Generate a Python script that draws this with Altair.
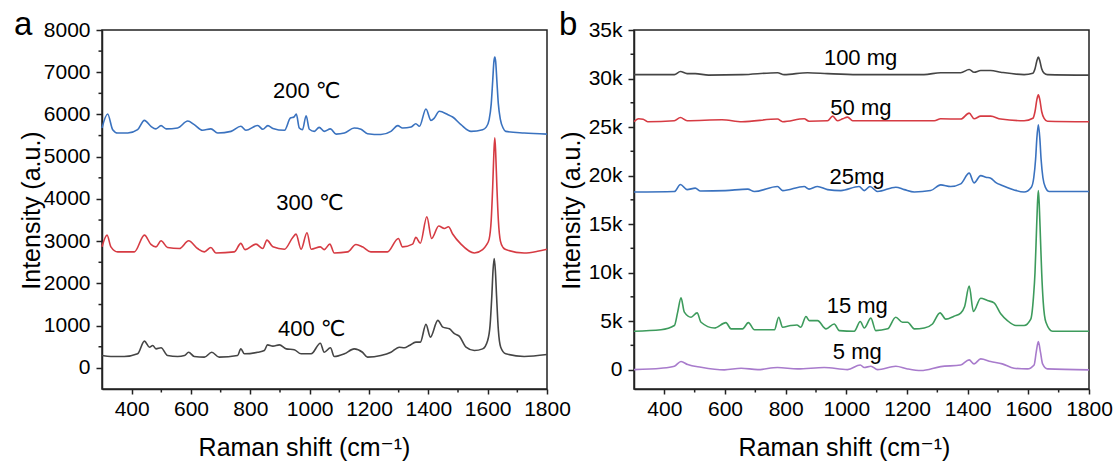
import altair as alt
import pandas as pd

FONT = "Liberation Sans, Arial, DejaVu Sans, Noto Sans CJK SC"

# ---------------- panel a : temperature series ----------------
A200_X = [300, 319, 336, 353, 387, 420, 443, 465, 482, 499, 516, 555, 589, 611, 639, 667, 690, 735, 768, 785,
          825, 842, 859, 876, 915, 935, 947, 955, 965, 976, 988, 999, 1016, 1032, 1049, 1070, 1089, 1117, 1150,
          1173, 1195, 1240, 1274, 1297, 1313, 1342, 1358, 1370, 1392, 1409, 1420, 1437, 1465, 1482, 1510, 1544,
          1583, 1595, 1605, 1612, 1617, 1621, 1624, 1627, 1631, 1636, 1643, 1652, 1661, 1723, 1800]
A200_Y = [5680, 6010, 5640, 5560, 5560, 5640, 5860, 5718, 5660, 5735, 5660, 5680, 5845, 5760, 5625, 5660, 5560,
          5600, 5720, 5625, 5740, 5650, 5735, 5670, 5625, 5915, 5940, 6010, 5680, 5640, 5970, 5650, 5600, 5695,
          5600, 5660, 5535, 5560, 5680, 5650, 5545, 5525, 5600, 5735, 5680, 5705, 5780, 5720, 6130, 5860, 5915,
          6075, 6000, 5940, 5760, 5600, 5640, 5700, 5880, 6250, 6800, 7250, 7360, 7250, 6800, 6250, 5880, 5680,
          5600, 5560, 5535]

A300_X = [300, 317, 330, 353, 409, 443, 465, 482, 499, 521, 561, 592, 622, 645, 667, 684, 746, 768, 782, 819,
          842, 856, 876, 915, 943, 954, 971, 991, 1005, 1036, 1049, 1068, 1083, 1128, 1156, 1178, 1206, 1262,
          1299, 1313, 1347, 1358, 1373, 1395, 1411, 1435, 1454, 1468, 1482, 1510, 1555, 1583, 1595, 1605, 1612,
          1617, 1621, 1624, 1627, 1631, 1636, 1643, 1652, 1661, 1723, 1768, 1800]
A300_Y = [2866, 3144, 2866, 2747, 2747, 3144, 2923, 2866, 3009, 2850, 2827, 3009, 2827, 2747, 2850, 2720, 2747,
          2947, 2800, 2930, 2827, 3025, 2866, 2810, 3089, 3168, 2810, 3200, 2810, 2866, 2800, 2930, 2720, 2747,
          2923, 2866, 2747, 2747, 3065, 2866, 2930, 3089, 2950, 3580, 3065, 3358, 3300, 3340, 3170, 2930, 2720,
          2800, 2900, 3050, 3500, 4300, 5100, 5450, 5100, 4300, 3500, 3000, 2850, 2800, 2720, 2760, 2810]

A400_X = [300, 330, 375, 420, 443, 460, 471, 482, 499, 521, 555, 578, 592, 611, 645, 670, 695, 757, 768, 780,
          825, 847, 858, 876, 898, 921, 948, 971, 1005, 1036, 1049, 1070, 1083, 1117, 1150, 1178, 1195, 1240,
          1274, 1302, 1319, 1336, 1358, 1373, 1392, 1407, 1432, 1449, 1471, 1488, 1505, 1527, 1555, 1583, 1600,
          1608, 1614, 1618, 1622, 1626, 1630, 1636, 1644, 1661, 1723, 1800]
A400_Y = [292, 270, 270, 333, 633, 490, 530, 450, 475, 292, 270, 292, 370, 270, 254, 370, 254, 292, 450, 333,
          370, 410, 545, 515, 545, 450, 430, 333, 333, 585, 370, 475, 270, 333, 450, 370, 254, 292, 370, 490,
          475, 530, 610, 610, 1030, 728, 1125, 965, 925, 810, 745, 490, 410, 450, 650, 1000, 1700, 2300, 2590,
          2300, 1700, 900, 490, 333, 270, 315]

SERIES_A = ["200 ℃", "300 ℃", "400 ℃"]
COLORS_A = ["#3a72bf", "#d63b43", "#454545"]
LABEL_A_X = [990, 1001, 1007]
LABEL_A_Y = [6550, 3900, 926]

# ---------------- panel b : mass series ----------------
B100_X = [300, 433, 453, 475, 502, 546, 656, 773, 795, 872, 938, 1037, 1147, 1256, 1311, 1377, 1405, 1421, 1443,
          1476, 1509, 1586, 1615, 1622, 1628, 1633, 1638, 1644, 1652, 1663, 1800]
B100_Y = [30400, 30400, 30720, 30500, 30500, 30350, 30400, 30600, 30400, 30600, 30500, 30400, 30400, 30400,
          30600, 30600, 30930, 30650, 30820, 30820, 30650, 30400, 30550, 31000, 31800, 32200, 31800, 31000,
          30550, 30400, 30350]

B50_X = [300, 315, 330, 345, 433, 453, 475, 590, 656, 773, 790, 861, 877, 938, 955, 971, 988, 1004, 1021, 1092,
         1202, 1290, 1311, 1377, 1405, 1421, 1443, 1476, 1509, 1586, 1615, 1622, 1628, 1633, 1638, 1644, 1652,
         1663, 1800]
B50_Y = [25550, 25850, 25800, 25550, 25650, 25980, 25650, 25750, 25550, 25820, 25550, 25850, 25600, 25650,
         26120, 25650, 25850, 26020, 25650, 25650, 25650, 25650, 25850, 25820, 26430, 25850, 26120, 26120,
         25820, 25650, 25900, 26600, 27800, 28320, 27800, 26600, 25900, 25600, 25550]

B25_X = [300, 433, 453, 475, 502, 519, 601, 675, 697, 773, 790, 861, 877, 905, 938, 982, 1042, 1059, 1078, 1103,
         1163, 1191, 1224, 1278, 1311, 1344, 1377, 1405, 1421, 1443, 1460, 1476, 1492, 1514, 1553, 1586, 1610,
         1618, 1624, 1628, 1633, 1638, 1642, 1648, 1656, 1669, 1800]
B25_Y = [18300, 18350, 19070, 18550, 18700, 18400, 18450, 18600, 18350, 18870, 18450, 18870, 18600, 18870,
         18550, 18450, 18870, 18450, 18870, 18350, 18800, 18550, 18300, 18450, 19040, 18870, 19140, 20250,
         19240, 19990, 19830, 19730, 19300, 18970, 18520, 18300, 18800, 19800, 21700, 23800, 25230, 23800,
         21700, 19800, 18800, 18350, 18350]

B15_X = [300, 389, 433, 444, 455, 466, 488, 508, 521, 565, 603, 620, 658, 677, 697, 763, 777, 790, 817, 837, 850,
         867, 878, 905, 933, 960, 977, 1026, 1046, 1059, 1081, 1097, 1136, 1163, 1185, 1202, 1224, 1257, 1284,
         1309, 1328, 1355, 1377, 1390, 1405, 1419, 1443, 1465, 1487, 1509, 1531, 1559, 1586, 1608, 1617, 1622,
         1626, 1630, 1633, 1636, 1640, 1644, 1649, 1658, 1680, 1800]
B15_Y = [3950, 4100, 4540, 5920, 7390, 5920, 5400, 5850, 4880, 4290, 4840, 4200, 4200, 4840, 4100, 4100, 5400,
         4370, 4540, 4600, 4370, 5470, 5050, 5050, 4200, 4700, 4020, 3950, 4950, 4290, 5300, 4020, 4200, 5400,
         4880, 4880, 4200, 4290, 4700, 5850, 5200, 5500, 5820, 6500, 8600, 5990, 7360, 7120, 6880, 5750, 5050,
         4540, 4540, 5200, 7500, 10000, 13500, 17000, 18450, 17000, 13500, 10000, 7000, 4880, 3950, 3950]

B5_X = [300, 389, 433, 455, 477, 521, 598, 653, 708, 773, 839, 927, 1004, 1046, 1059, 1081, 1103, 1163, 1202,
        1246, 1311, 1377, 1405, 1421, 1443, 1476, 1514, 1553, 1597, 1619, 1626, 1633, 1640, 1647, 1663, 1800]
B5_Y = [0, 140, 350, 830, 520, 240, -30, 140, 0, 210, 70, 210, 0, 480, 210, 350, 0, 350, 70, -100, 310, 480, 1000,
        590, 1100, 830, 590, 140, 70, 480, 1800, 2890, 1800, 590, 70, -30]

SERIES_B = ["100 mg", "50 mg", "25mg", "15 mg", "5 mg"]
COLORS_B = ["#454545", "#d63b43", "#3a72bf", "#3d9b5c", "#a87bcc"]
LABEL_B_X = [1047, 1048, 1035, 1036, 1036]
LABEL_B_Y = [32100, 26950, 19830, 6530, 1790]

X_MAJOR = list(range(400, 1801, 200))
X_MINOR = list(range(500, 1801, 200))
YA_MAJOR = list(range(0, 8001, 1000))
YA_MINOR = list(range(500, 8000, 1000))
YB_MAJOR = list(range(0, 35001, 5000))
YB_MINOR = list(range(2500, 35000, 5000))


def long_frame(names, colors, xs, ys):
    parts = []
    for n, c, x, y in zip(names, colors, xs, ys):
        parts.append(pd.DataFrame({"x": x, "y": y, "series": n, "col": c}))
    return pd.concat(parts, ignore_index=True)


df_a = long_frame(SERIES_A, COLORS_A, [A200_X, A300_X, A400_X], [A200_Y, A300_Y, A400_Y])
df_b = long_frame(SERIES_B, COLORS_B, [B100_X, B50_X, B25_X, B15_X, B5_X], [B100_Y, B50_Y, B25_Y, B15_Y, B5_Y])
lab_a = pd.DataFrame({"x": LABEL_A_X, "y": LABEL_A_Y, "t": SERIES_A})
lab_b = pd.DataFrame({"x": LABEL_B_X, "y": LABEL_B_Y, "t": SERIES_B})
xminor_df = pd.DataFrame({"x": X_MINOR})


def x_axis(title_x):
    return alt.Axis(values=X_MAJOR, format="d",
                    title="Raman shift (cm⁻¹)", titleX=title_x, titleY=58, titleBaseline="middle",
                    labelFlush=False, labelOverlap=False, tickSize=5, labelPadding=4, grid=False)


def panel(df, lab, ydom, yaxis, yminor, xtitle_x, letter, letter_x, width, height):
    xs = alt.Scale(domain=[300, 1800], nice=False, zero=False)
    ys = alt.Scale(domain=ydom, nice=False, zero=False)
    lines = alt.Chart(df).mark_line(strokeWidth=1.6, interpolate="monotone").encode(
        x=alt.X("x:Q", scale=xs, axis=x_axis(xtitle_x)),
        y=alt.Y("y:Q", scale=ys, axis=yaxis),
        color=alt.Color("col:N", scale=None),
        detail="series:N",
    )
    xminor = alt.Chart(xminor_df).mark_rule(color="#222222", strokeWidth=1.5).encode(
        x=alt.X("x:Q", scale=xs), y=alt.value(height), y2=alt.value(height + 3.5))
    yminor_c = alt.Chart(pd.DataFrame({"y": yminor})).mark_rule(color="#222222", strokeWidth=1.5).encode(
        y=alt.Y("y:Q", scale=ys), x=alt.value(0), x2=alt.value(-3.5))
    texts = alt.Chart(lab).mark_text(fontSize=22, font=FONT, color="black", baseline="middle").encode(
        x=alt.X("x:Q", scale=xs), y=alt.Y("y:Q", scale=ys), text="t:N")
    let = alt.Chart(pd.DataFrame({"t": [letter]})).mark_text(
        fontSize=33, font=FONT, color="black", align="left", baseline="alphabetic").encode(
        x=alt.value(letter_x), y=alt.value(5), text="t:N")
    return alt.layer(lines, xminor, yminor_c, texts, let).properties(width=width, height=height)


ya_axis = alt.Axis(values=YA_MAJOR, format="d",
                   title="Intensity (a.u.)", titleX=-71, titleY=180, titleBaseline="middle",
                   labelOverlap=False, tickSize=6, labelPadding=6, grid=False)
yb_axis = alt.Axis(values=YB_MAJOR,
                   labelExpr="datum.value == 0 ? '0' : (datum.value / 1000) + 'k'",
                   title="Intensity (a.u.)", titleX=-63, titleY=180, titleBaseline="middle",
                   labelOverlap=False, tickSize=6, labelPadding=6, grid=False)

pa = panel(df_a, lab_a, [-500, 8000], ya_axis, YA_MINOR, 202, "a", -88, 445, 359)
pb = panel(df_b, lab_b, [-2000, 35000], yb_axis, YB_MINOR, 210, "b", -75, 455, 359)

chart = alt.hconcat(pa, pb, spacing=87, bounds="flush").properties(
    padding={"left": 13, "top": 8, "right": 5, "bottom": 5}
).configure_view(stroke="#222222", strokeWidth=1.5).configure_axis(
    domainColor="#222222", domainWidth=1.5, tickColor="#222222", tickWidth=1.5,
    labelFont=FONT, labelFontSize=21, labelColor="black",
    titleFont=FONT, titleFontSize=25, titleFontWeight="normal", titleColor="black",
)

chart.save("out.html", embed_options={"renderer": "svg", "actions": False})
